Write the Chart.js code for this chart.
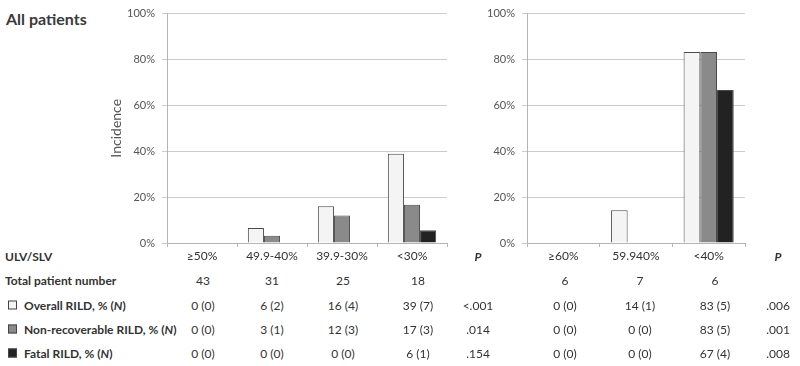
<!DOCTYPE html>
<html>
<head>
<meta charset="utf-8">
<script src="https://cdn.jsdelivr.net/npm/chart.js@4"></script>
<style>
    body { margin: 0; width: 800px; height: 366px; background: #fff; position: relative; overflow: hidden;
           font-family: Lato, "Open Sans", sans-serif; color: #333; }
    #titulo { position: absolute; left: 6px; top: 9px; font-weight: bold; font-size: 16px; color: #3a3a3a; }
    #izq { position: absolute; left: 90px; top: 0; width: 370px; height: 270px; }
    #der { position: absolute; left: 460px; top: 0; width: 300px; height: 270px; }
    .celda { position: absolute; transform: translate(-50%, -50%); font-size: 12px; white-space: nowrap; }
    .etiqueta { position: absolute; left: 5px; transform: translateY(-50%); font-size: 12px; font-weight: bold; white-space: nowrap; }
    .cuadro { display: inline-block; width: 7px; height: 7px; border: 1px solid #444; margin: 0 7px 0 3px; vertical-align: 0; }
    .p { font-style: italic; font-weight: bold; }
</style>
</head>
<body>
<div id="titulo">All patients</div>
<div id="izq"><canvas id="grafica-izq"></canvas></div>
<div id="der"><canvas id="grafica-der"></canvas></div>
<div id="tabla"></div>

<script>
// Categorías (ULV/SLV)
const categoriasIzq = ['≥50%', '49.9-40%', '39.9-30%', '<30%'];
const categoriasDer = ['≥60%', '59.940%', '<40%'];

const globalIzq = [0, 6.5, 16, 38.9];
const noRecupIzq = [0, 3.2, 12, 16.7];
const fatalIzq = [0, 0, 0, 5.6];
const globalDer = [0, 14.3, 83.3];
const noRecupDer = [0, 0, 83.3];
const fatalDer = [0, 0, 66.7];

const ticksY = [0, 20, 40, 60, 80, 100];

// Tabla inferior
const pacientesIzq = [43, 31, 25, 18];
const pacientesDer = [6, 7, 6];
const filaGlobalIzq = ['0 (0)', '6 (2)', '16 (4)', '39 (7)'];
const filaNoRecupIzq = ['0 (0)', '3 (1)', '12 (3)', '17 (3)'];
const filaFatalIzq = ['0 (0)', '0 (0)', '0 (0)', '6 (1)'];
const filaGlobalDer = ['0 (0)', '14 (1)', '83 (5)'];
const filaNoRecupDer = ['0 (0)', '0 (0)', '83 (5)'];
const filaFatalDer = ['0 (0)', '0 (0)', '67 (4)'];
const pIzq = ['<.001', '.014', '.154'];
const pDer = ['.006', '.001', '.008'];

const colores = ['#f4f4f4', '#8a8a8a', '#222222'];
const nombres = ['Overall RILD', 'Non-recoverable RILD', 'Fatal RILD'];

function crearGrafica(id, categorias, series, anchoEje, relleno, conTitulo) {
    const ctx = document.getElementById(id).getContext('2d');
    new Chart(ctx, {
        type: 'bar',
        data: {
            labels: categorias,
            datasets: series.map((datos, i) => ({
                label: nombres[i],
                data: datos.map(v => v || null),
                backgroundColor: colores[i],
                borderColor: '#4a4a4a',
                borderWidth: 1,
                borderSkipped: 'bottom',
                categoryPercentage: 0.69,
                barPercentage: 1,
            })),
        },
        options: {
            responsive: true,
            maintainAspectRatio: false,
            animation: false,
            layout: { padding: relleno },
            plugins: { legend: { display: false }, tooltip: { enabled: false } },
            scales: {
                x: {
                    grid: { drawOnChartArea: false, tickLength: 4, color: '#b5b5b5', offset: true },
                    border: { color: '#b5b5b5' },
                    ticks: { color: '#333', padding: 2, font: { family: 'Lato', size: 12 } },
                    afterFit: s => { s.height = 27; },
                },
                y: {
                    min: 0,
                    max: 100,
                    afterBuildTicks: s => { s.ticks = ticksY.map(v => ({ value: v })); },
                    grid: { color: '#cccccc', tickLength: 5 },
                    border: { color: '#b5b5b5' },
                    ticks: { color: '#555', padding: 7, font: { family: 'Lato', size: 11 }, callback: v => v + '%' },
                    title: {
                        display: conTitulo,
                        text: 'Incidence',
                        color: '#555',
                        font: { family: 'Lato', size: 14 },
                        padding: { top: 18, bottom: 0 },
                    },
                    afterFit: s => { s.width = anchoEje; },
                },
            },
        },
    });
}

crearGrafica('grafica-izq', categoriasIzq, [globalIzq, noRecupIzq, fatalIzq], 77, { top: 13, right: 13, bottom: 0, left: 0 }, true);
crearGrafica('grafica-der', categoriasDer, [globalDer, noRecupDer, fatalDer], 67, { top: 13, right: 15, bottom: 0, left: 0 }, false);

// Construcción de la tabla
const tabla = document.getElementById('tabla');
const colIzq = [203, 272, 343, 418];
const colDer = [565, 640, 715];
const colPIzq = 478;
const colPDer = 778;
const filasY = [280, 305, 329, 353];

function celda(x, y, texto, clase) {
    const d = document.createElement('div');
    d.className = 'celda' + (clase ? ' ' + clase : '');
    d.style.left = x + 'px';
    d.style.top = y + 'px';
    d.textContent = texto;
    tabla.appendChild(d);
}

function etiqueta(y, html) {
    const d = document.createElement('div');
    d.className = 'etiqueta';
    d.style.top = y + 'px';
    d.innerHTML = html;
    tabla.appendChild(d);
}

etiqueta(256, 'ULV/SLV');
celda(colPIzq, 256, 'P', 'p');
celda(colPDer, 256, 'P', 'p');

etiqueta(filasY[0], 'Total patient number');
pacientesIzq.forEach((n, i) => celda(colIzq[i], filasY[0], n));
pacientesDer.forEach((n, i) => celda(colDer[i], filasY[0], n));

const filasIzq = [filaGlobalIzq, filaNoRecupIzq, filaFatalIzq];
const filasDer = [filaGlobalDer, filaNoRecupDer, filaFatalDer];
nombres.forEach((nombre, f) => {
    const y = filasY[f + 1];
    etiqueta(y, `<span class="cuadro" style="background:${colores[f]}"></span>${nombre}, % (<i>N</i>)`);
    filasIzq[f].forEach((t, i) => celda(colIzq[i], y, t));
    celda(colPIzq, y, pIzq[f]);
    filasDer[f].forEach((t, i) => celda(colDer[i], y, t));
    celda(colPDer, y, pDer[f]);
});
</script>
</body>
</html>
